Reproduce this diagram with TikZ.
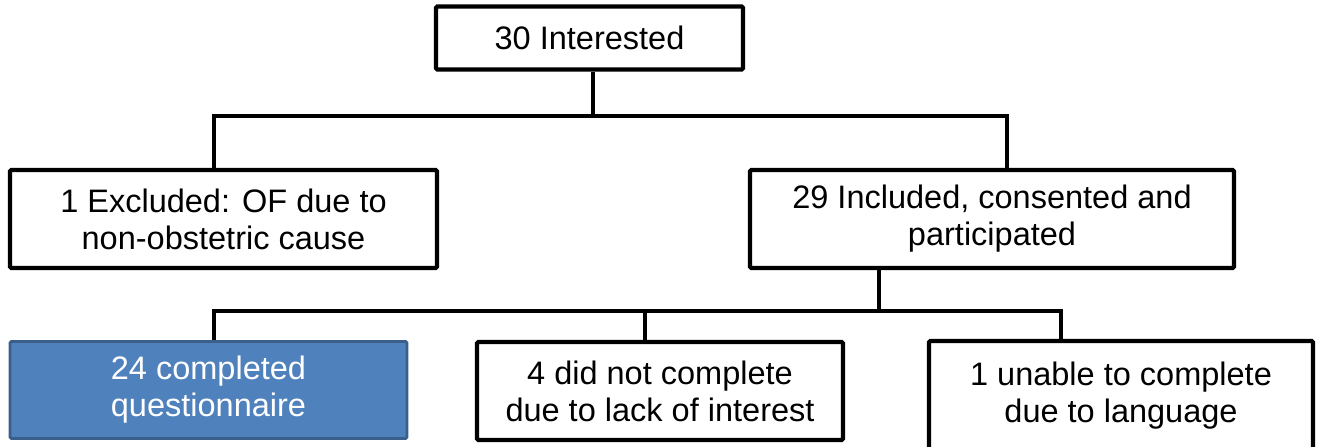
\documentclass[tikz,border=0pt]{standalone}
\usepackage{fontspec}
\setmainfont{Liberation Sans}
\usetikzlibrary{positioning}
\definecolor{boxblue}{HTML}{4F81BD}
\definecolor{boxblueline}{HTML}{3A5F8B}

\begin{document}
\begin{tikzpicture}[
    x=0.02cm, y=-0.02cm,
    flowbox/.style={draw,line width=2.4pt,rectangle,rounded corners=0.8pt,align=center,inner sep=0pt,font=\fontsize{18.5}{21}\selectfont},
    donebox/.style={flowbox,fill=boxblue,draw=boxblueline,line width=1.6pt,text=white},
    link/.style={line width=2.6pt}
]
\useasboundingbox (0,0) rectangle (1317,446);
\clip (0,0) rectangle (1317,446);

% boxes
\node[flowbox,minimum width=6.14cm,minimum height=1.26cm] (interested) at (589.5,38) {30 Interested};
\node[flowbox,minimum width=8.54cm,minimum height=1.96cm] (excluded) at (223.5,219) {1 Excluded: OF due to\\non-obstetric cause};
\node[flowbox,minimum width=9.68cm,minimum height=1.96cm] (included) at (992,219) {29 Included, consented and\\participated};
\node[donebox,minimum width=7.94cm,minimum height=1.94cm] (completed) at (208.5,390) {24 completed\\questionnaire};
\node[flowbox,minimum width=7.32cm,minimum height=1.96cm] (nointerest) at (660,391) {4 did not complete\\due to lack of interest};
\node[flowbox,minimum width=7.68cm,minimum height=2.18cm] (language) at (1121,395.5) {1 unable to complete\\due to language};

% branch points
\coordinate (hub1) at (593,116);
\coordinate (leftdrop) at (214,116);
\coordinate (rightdrop) at (1007,116);
\coordinate (hub2) at (879,311);
\coordinate (drop1) at (214,311);
\coordinate (drop2) at (645,311);
\coordinate (drop3) at (1061,311);

% first split
\draw[link] (interested.south -| hub1) -- (hub1);
\draw[link] (leftdrop |- excluded.north) |- (rightdrop) -- (rightdrop |- included.north);

% second split
\draw[link] (included.south -| hub2) -- (hub2);
\draw[link] (drop1 |- completed.north) |- (drop3) -- (drop3 |- language.north);
\draw[link] (drop2) -- (drop2 |- nointerest.north);
\end{tikzpicture}
\end{document}
